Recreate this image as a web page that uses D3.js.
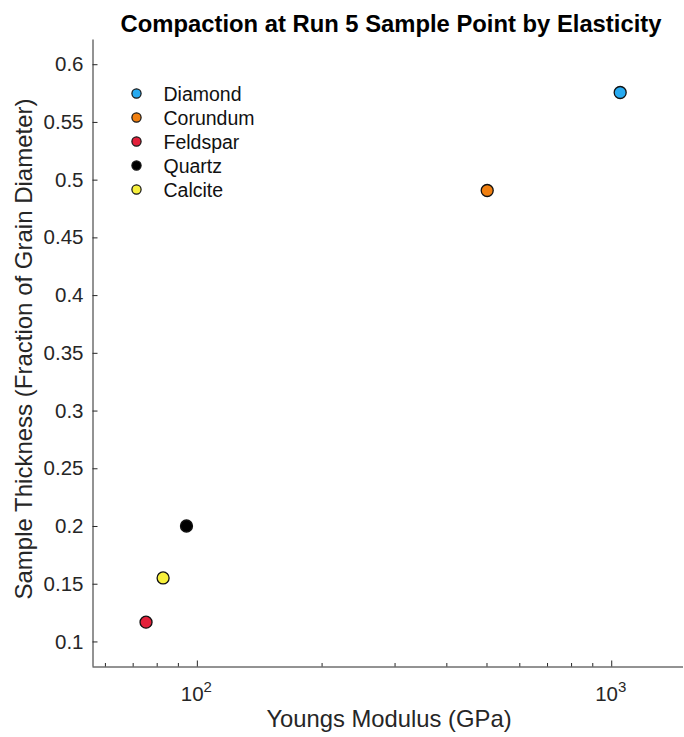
<!DOCTYPE html>
<html>
<head>
<meta charset="utf-8">
<script src="https://cdn.jsdelivr.net/npm/d3@7"></script>
<style>
  html, body { margin: 0; padding: 0; background: #fff; }
  svg { display: block; font-family: "Liberation Sans", Arial, Helvetica, sans-serif; }
</style>
</head>
<body>
<svg id="chart" width="684" height="737"></svg>
<script>
// data
const minerals = ['Diamond', 'Corundum', 'Feldspar', 'Quartz', 'Calcite'];
const youngsModulus = [1051, 502, 75.4, 94.4, 82.9];
const thickness = [0.5755, 0.4906, 0.1167, 0.2, 0.155];
const colors = ['#27aaf0', '#f07f10', '#e3213b', '#000000', '#f7f03c'];

const xDomain = [56, 1490];
const yDomain = [0.0783, 0.6214];
const yTicks = [0.1, 0.15, 0.2, 0.25, 0.3, 0.35, 0.4, 0.45, 0.5, 0.55, 0.6];
const xMajorTicks = [100, 1000];
const xMinorTicks = [60, 70, 80, 90, 200, 300, 400, 500, 600, 700, 800, 900];

const margin = { top: 39.5, right: 1, bottom: 70.5, left: 92.5 };
const width = 684;
const height = 737;
const innerWidth = width - margin.left - margin.right;
const innerHeight = height - margin.top - margin.bottom;

const svg = d3.select('#chart');
const root = svg.append('g').attr('transform', `translate(${margin.left}, ${margin.top})`);

const x = d3.scaleLog().domain(xDomain).range([0, innerWidth]);
const y = d3.scaleLinear().domain(yDomain).range([innerHeight, 0]);

const axisColor = '#262626';
const textColor = '#262626';

// y axis
root.append('g')
  .call(d3.axisLeft(y).tickValues(yTicks).tickSizeInner(-5).tickSizeOuter(0).tickPadding(9)
    .tickFormat((v) => d3.format('~g')(v)))
  .call((g) => g.select('.domain').attr('stroke', axisColor).attr('d', `M0.5,0V${innerHeight}`))
  .call((g) => g.selectAll('line').attr('stroke', axisColor))
  .call((g) => g.selectAll('text').attr('fill', textColor).attr('font-size', 20.5)
    .attr('font-family', '"Liberation Sans", Arial, sans-serif'));

// x axis minor ticks
root.append('g')
  .attr('transform', `translate(0, ${innerHeight})`)
  .call(d3.axisBottom(x).tickValues(xMinorTicks).tickSizeInner(-3.5).tickSizeOuter(0).tickFormat(''))
  .call((g) => g.select('.domain').attr('stroke', axisColor).attr('d', `M0,0.5H${innerWidth}`))
  .call((g) => g.selectAll('line').attr('stroke', axisColor));

// x axis major ticks with superscript labels
const xMajor = root.append('g')
  .attr('transform', `translate(0, ${innerHeight})`)
  .call(d3.axisBottom(x).tickValues(xMajorTicks).tickSizeInner(-6).tickSizeOuter(0).tickFormat(''))
  .call((g) => g.select('.domain').remove())
  .call((g) => g.selectAll('line').attr('stroke', axisColor));

xMajor.selectAll('.tick').append('text')
  .attr('x', -1)
  .attr('y', 34)
  .attr('fill', textColor)
  .attr('font-size', 20.5)
  .attr('text-anchor', 'middle')
  .each(function (d) {
    const t = d3.select(this);
    t.append('tspan').text('10');
    t.append('tspan').attr('dy', -9).attr('font-size', 15).text(Math.round(Math.log10(d)));
  });

// points
root.selectAll('circle.point')
  .data(minerals)
  .enter()
  .append('circle')
  .attr('class', 'point')
  .attr('cx', (d, i) => x(youngsModulus[i]))
  .attr('cy', (d, i) => y(thickness[i]))
  .attr('r', 6)
  .attr('fill', (d, i) => colors[i])
  .attr('stroke', '#111')
  .attr('stroke-width', 1.3);

// legend
const legend = root.append('g').attr('transform', 'translate(44, 54)');
const row = legend.selectAll('g')
  .data(minerals)
  .enter()
  .append('g')
  .attr('transform', (d, i) => `translate(0, ${i * 24})`);
row.append('circle')
  .attr('r', 4.6)
  .attr('fill', (d, i) => colors[i])
  .attr('stroke', '#111')
  .attr('stroke-width', 1.2);
row.append('text')
  .attr('x', 27)
  .attr('dy', '0.36em')
  .attr('font-size', 19.5)
  .attr('fill', '#111')
  .text((d) => d);

// title and axis labels
svg.append('text')
  .attr('x', 391)
  .attr('y', 32)
  .attr('text-anchor', 'middle')
  .attr('font-size', 23.8)
  .attr('font-weight', 'bold')
  .attr('fill', '#000')
  .text('Compaction at Run 5 Sample Point by Elasticity');

svg.append('text')
  .attr('x', 389)
  .attr('y', 727)
  .attr('text-anchor', 'middle')
  .attr('font-size', 23.8)
  .attr('fill', textColor)
  .text('Youngs Modulus (GPa)');

svg.append('text')
  .attr('transform', 'translate(32, 349) rotate(-90)')
  .attr('text-anchor', 'middle')
  .attr('font-size', 24)
  .attr('fill', textColor)
  .text('Sample Thickness (Fraction of Grain Diameter)');
</script>
</body>
</html>
